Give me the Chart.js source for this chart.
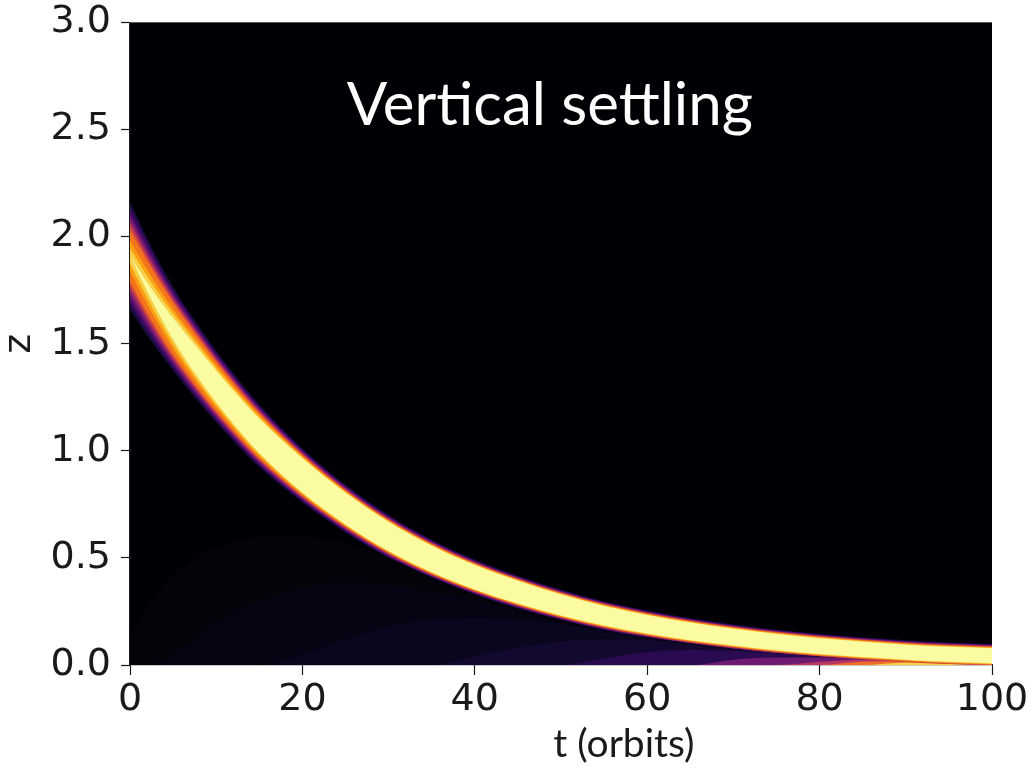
<!DOCTYPE html>
<html>
<head>
<meta charset="utf-8">
<script src="https://cdn.jsdelivr.net/npm/chart.js@4.4.1/dist/chart.umd.min.js"></script>
<style>
html,body{margin:0;padding:0;background:#ffffff;}
canvas{display:block;}
</style>
</head>
<body>
<canvas id="c" width="1032" height="768"></canvas>
<script>
// ---- data ----
const tOrbits    = [0, 2.5, 5, 7.5, 10, 12.5, 15, 20, 25, 30, 35, 40, 45, 50, 55, 60, 65, 70, 75, 80, 85, 90, 95, 100];
// centre of the settling dust layer (z)
const bandCenter = [1.91, 1.73, 1.57, 1.43, 1.30, 1.18, 1.07, 0.885, 0.73, 0.60, 0.495, 0.41, 0.34, 0.28, 0.23, 0.19, 0.157, 0.13, 0.107, 0.088, 0.073, 0.06, 0.05, 0.043];
// half thickness of the visible (purple) edge
const outerHalf  = [0.25, 0.22, 0.195, 0.18, 0.167, 0.156, 0.146, 0.126, 0.111, 0.10, 0.09, 0.082, 0.076, 0.071, 0.067, 0.064, 0.061, 0.059, 0.058, 0.057, 0.056, 0.055, 0.055, 0.055];
// half thickness of the orange part
const orangeHalf = [0.12, 0.122, 0.122, 0.12, 0.116, 0.111, 0.106, 0.095, 0.085, 0.077, 0.07, 0.064, 0.06, 0.056, 0.053, 0.05, 0.048, 0.046, 0.045, 0.044, 0.043, 0.042, 0.042, 0.042];
// half thickness of the pale yellow core
const yellowHalf = [0.0, 0.025, 0.05, 0.066, 0.074, 0.078, 0.08, 0.08, 0.074, 0.068, 0.062, 0.057, 0.053, 0.049, 0.046, 0.043, 0.041, 0.039, 0.038, 0.037, 0.036, 0.035, 0.035, 0.035];
// faint glow near the midplane (upper z of each intensity level)
const glowFaint  = [0.12, 0.3, 0.42, 0.5, 0.55, 0.58, 0.6, 0.6, 0.57, 0.5, 0.41, 0.33, 0.26, 0.21, 0.16, 0.13, 0.1, 0.075, 0.055, 0.04, 0.025, 0.015, 0.005, 0];
const glowDim    = [0, 0, 0.05, 0.12, 0.2, 0.26, 0.3, 0.36, 0.38, 0.37, 0.34, 0.3, 0.25, 0.2, 0.16, 0.125, 0.095, 0.07, 0.05, 0.035, 0.02, 0.01, 0, 0];
const glowLow    = [0, 0, 0, 0, 0, 0, 0, 0.05, 0.12, 0.18, 0.21, 0.22, 0.21, 0.19, 0.16, 0.13, 0.1, 0.075, 0.055, 0.04, 0.025, 0.012, 0, 0];
const glowMid    = [0, 0, 0, 0, 0, 0, 0, 0, 0, 0, 0, 0.04, 0.08, 0.11, 0.12, 0.115, 0.095, 0.075, 0.055, 0.04, 0.025, 0.012, 0, 0];
const glowPurple = [0, 0, 0, 0, 0, 0, 0, 0, 0, 0, 0, 0, 0, 0, 0.03, 0.06, 0.07, 0.065, 0.055, 0.04, 0.028, 0.015, 0.005, 0];
const glowMagenta= [0, 0, 0, 0, 0, 0, 0, 0, 0, 0, 0, 0, 0, 0, 0, 0, 0, 0.025, 0.035, 0.035, 0.03, 0.018, 0.008, 0];
const glowRed    = [0, 0, 0, 0, 0, 0, 0, 0, 0, 0, 0, 0, 0, 0, 0, 0, 0, 0, 0, 0.015, 0.025, 0.02, 0.01, 0];
const glowOrange = [0, 0, 0, 0, 0, 0, 0, 0, 0, 0, 0, 0, 0, 0, 0, 0, 0, 0, 0, 0, 0.015, 0.018, 0.012, 0.005];
const glowYellow = [0, 0, 0, 0, 0, 0, 0, 0, 0, 0, 0, 0, 0, 0, 0, 0, 0, 0, 0, 0, 0, 0.012, 0.012, 0.006];

const xTickValues = [0, 20, 40, 60, 80, 100];
const xTickLabels = ['0', '20', '40', '60', '80', '100'];
const yTickValues = [0, 0.5, 1.0, 1.5, 2.0, 2.5, 3.0];
const yTickLabels = ['0.0', '0.5', '1.0', '1.5', '2.0', '2.5', '3.0'];

const chartTitle = 'Vertical settling';
const xTitle = 't (orbits)';
const yTitle = 'z';

// ---- build datasets ----
const halves = { yellow: yellowHalf, orange: orangeHalf, outer: outerHalf };
// inner -> outer bands: [from, to, fraction, colour]
const innerBands = [
  ['yellow', 'orange', 0.0, '#fbfca2'],
  ['yellow', 'orange', 0.3, '#f7cf48'],
  ['yellow', 'orange', 0.6, '#fba012'],
  ['yellow', 'orange', 1.0, '#f2751c'],
  ['orange', 'outer', 0.13, '#dc5039'],
  ['orange', 'outer', 0.27, '#b93556']
];
const outerBands = [
  ['orange', 'outer', 0.42, '#8f2469'],
  ['orange', 'outer', 0.6, '#65156e'],
  ['orange', 'outer', 0.8, '#3d0965'],
  ['orange', 'outer', 1.0, '#1b0c41']
];
const glowLayers = [
  [glowYellow, '#f8d048'],
  [glowOrange, '#ef6f27'],
  [glowRed, '#b73762'],
  [glowMagenta, '#6d1a70'],
  [glowPurple, '#2a0b52'],
  [glowMid, '#130930'],
  [glowLow, '#0a061d'],
  [glowDim, '#060413'],
  [glowFaint, '#04030a']
];

function bandPair(spec) {
  const [a, b, f, col] = spec;
  const A = halves[a], B = halves[b];
  const half = tOrbits.map((t, i) => A[i] + (B[i] - A[i]) * f);
  const base = { borderWidth: 0, borderColor: 'rgba(0,0,0,0)', pointRadius: 0,
                 cubicInterpolationMode: 'monotone', clip: 0 };
  return [
    Object.assign({}, base, { data: tOrbits.map((t, i) => ({ x: t, y: bandCenter[i] + half[i] })),
                              fill: '+1', backgroundColor: col }),
    Object.assign({}, base, { data: tOrbits.map((t, i) => ({ x: t, y: bandCenter[i] - half[i] })),
                              fill: false, backgroundColor: col })
  ];
}

const datasets = [];
innerBands.forEach(s => datasets.push(...bandPair(s)));
glowLayers.forEach(([arr, col]) => datasets.push({
  data: tOrbits.map((t, i) => ({ x: t, y: arr[i] })),
  fill: 'origin', backgroundColor: col, borderWidth: 0, borderColor: 'rgba(0,0,0,0)',
  pointRadius: 0, cubicInterpolationMode: 'monotone', clip: 0
}));
outerBands.forEach(s => datasets.push(...bandPair(s)));

// ---- plugins ----
const backdrop = {
  id: 'backdrop',
  beforeDraw(chart) {
    const { ctx, chartArea: a } = chart;
    ctx.save();
    ctx.fillStyle = '#ffffff';
    ctx.fillRect(0, 0, chart.width, chart.height);
    ctx.fillStyle = '#000004';
    ctx.fillRect(a.left, a.top, a.right - a.left, a.bottom - a.top);
    ctx.restore();
  }
};
const texts = {
  id: 'texts',
  afterDraw(chart) {
    const { ctx, chartArea: a, scales } = chart;
    ctx.save();
    ctx.textAlign = 'center';
    ctx.textBaseline = 'alphabetic';
    ctx.fillStyle = '#ffffff';
    ctx.font = '60px Lato, "Open Sans", sans-serif';
    ctx.fillText(chartTitle, scales.x.getPixelForValue(48.7), scales.y.getPixelForValue(2.52));
    ctx.fillStyle = '#1a1a1a';
    ctx.font = '39px Lato, "Open Sans", sans-serif';
    ctx.fillText(xTitle, scales.x.getPixelForValue(57.3), a.bottom + 92);
    ctx.restore();
  }
};

const xTickFont = { family: '"DejaVu Sans", sans-serif', size: 38 };
const yTickFont = { family: '"DejaVu Sans", sans-serif', size: 38, lineHeight: 0.65 };

new Chart(document.getElementById('c'), {
  type: 'line',
  data: { datasets },
  plugins: [backdrop, texts],
  options: {
    responsive: false,
    devicePixelRatio: 1,
    animation: false,
    events: [],
    layout: { padding: { left: 0, right: 40, top: 12, bottom: 0 } },
    plugins: { legend: { display: false }, tooltip: { enabled: false }, title: { display: false } },
    scales: {
      x: {
        type: 'linear', min: 0, max: 100,
        afterBuildTicks: s => { s.ticks = xTickValues.map(v => ({ value: v })); },
        afterFit: s => { s.height = 103; },
        ticks: { font: xTickFont, color: '#1a1a1a', padding: 2, maxRotation: 0,
                 callback: (v, i) => xTickLabels[i] },
        grid: { drawOnChartArea: false, drawTicks: true, tickLength: 10, color: '#1a1a1a', tickWidth: 1.2 },
        border: { display: true, color: '#1a1a1a', width: 1.2 }
      },
      y: {
        type: 'linear', min: 0, max: 3,
        afterBuildTicks: s => { s.ticks = yTickValues.map(v => ({ value: v })); },
        afterFit: s => { s.width = 130; },
        ticks: { font: yTickFont, color: '#1a1a1a', padding: 10,
                 callback: (v, i) => yTickLabels[i] },
        grid: { drawOnChartArea: false, drawTicks: true, tickLength: 9, color: '#1a1a1a', tickWidth: 1.2 },
        border: { display: true, color: '#1a1a1a', width: 1.2 },
        title: { display: true, text: yTitle, color: '#1a1a1a',
                 font: { family: '"DejaVu Sans", sans-serif', size: 38, lineHeight: 1 },
                 padding: { top: 1, bottom: 11 } }
      }
    }
  }
});
</script>
</body>
</html>
